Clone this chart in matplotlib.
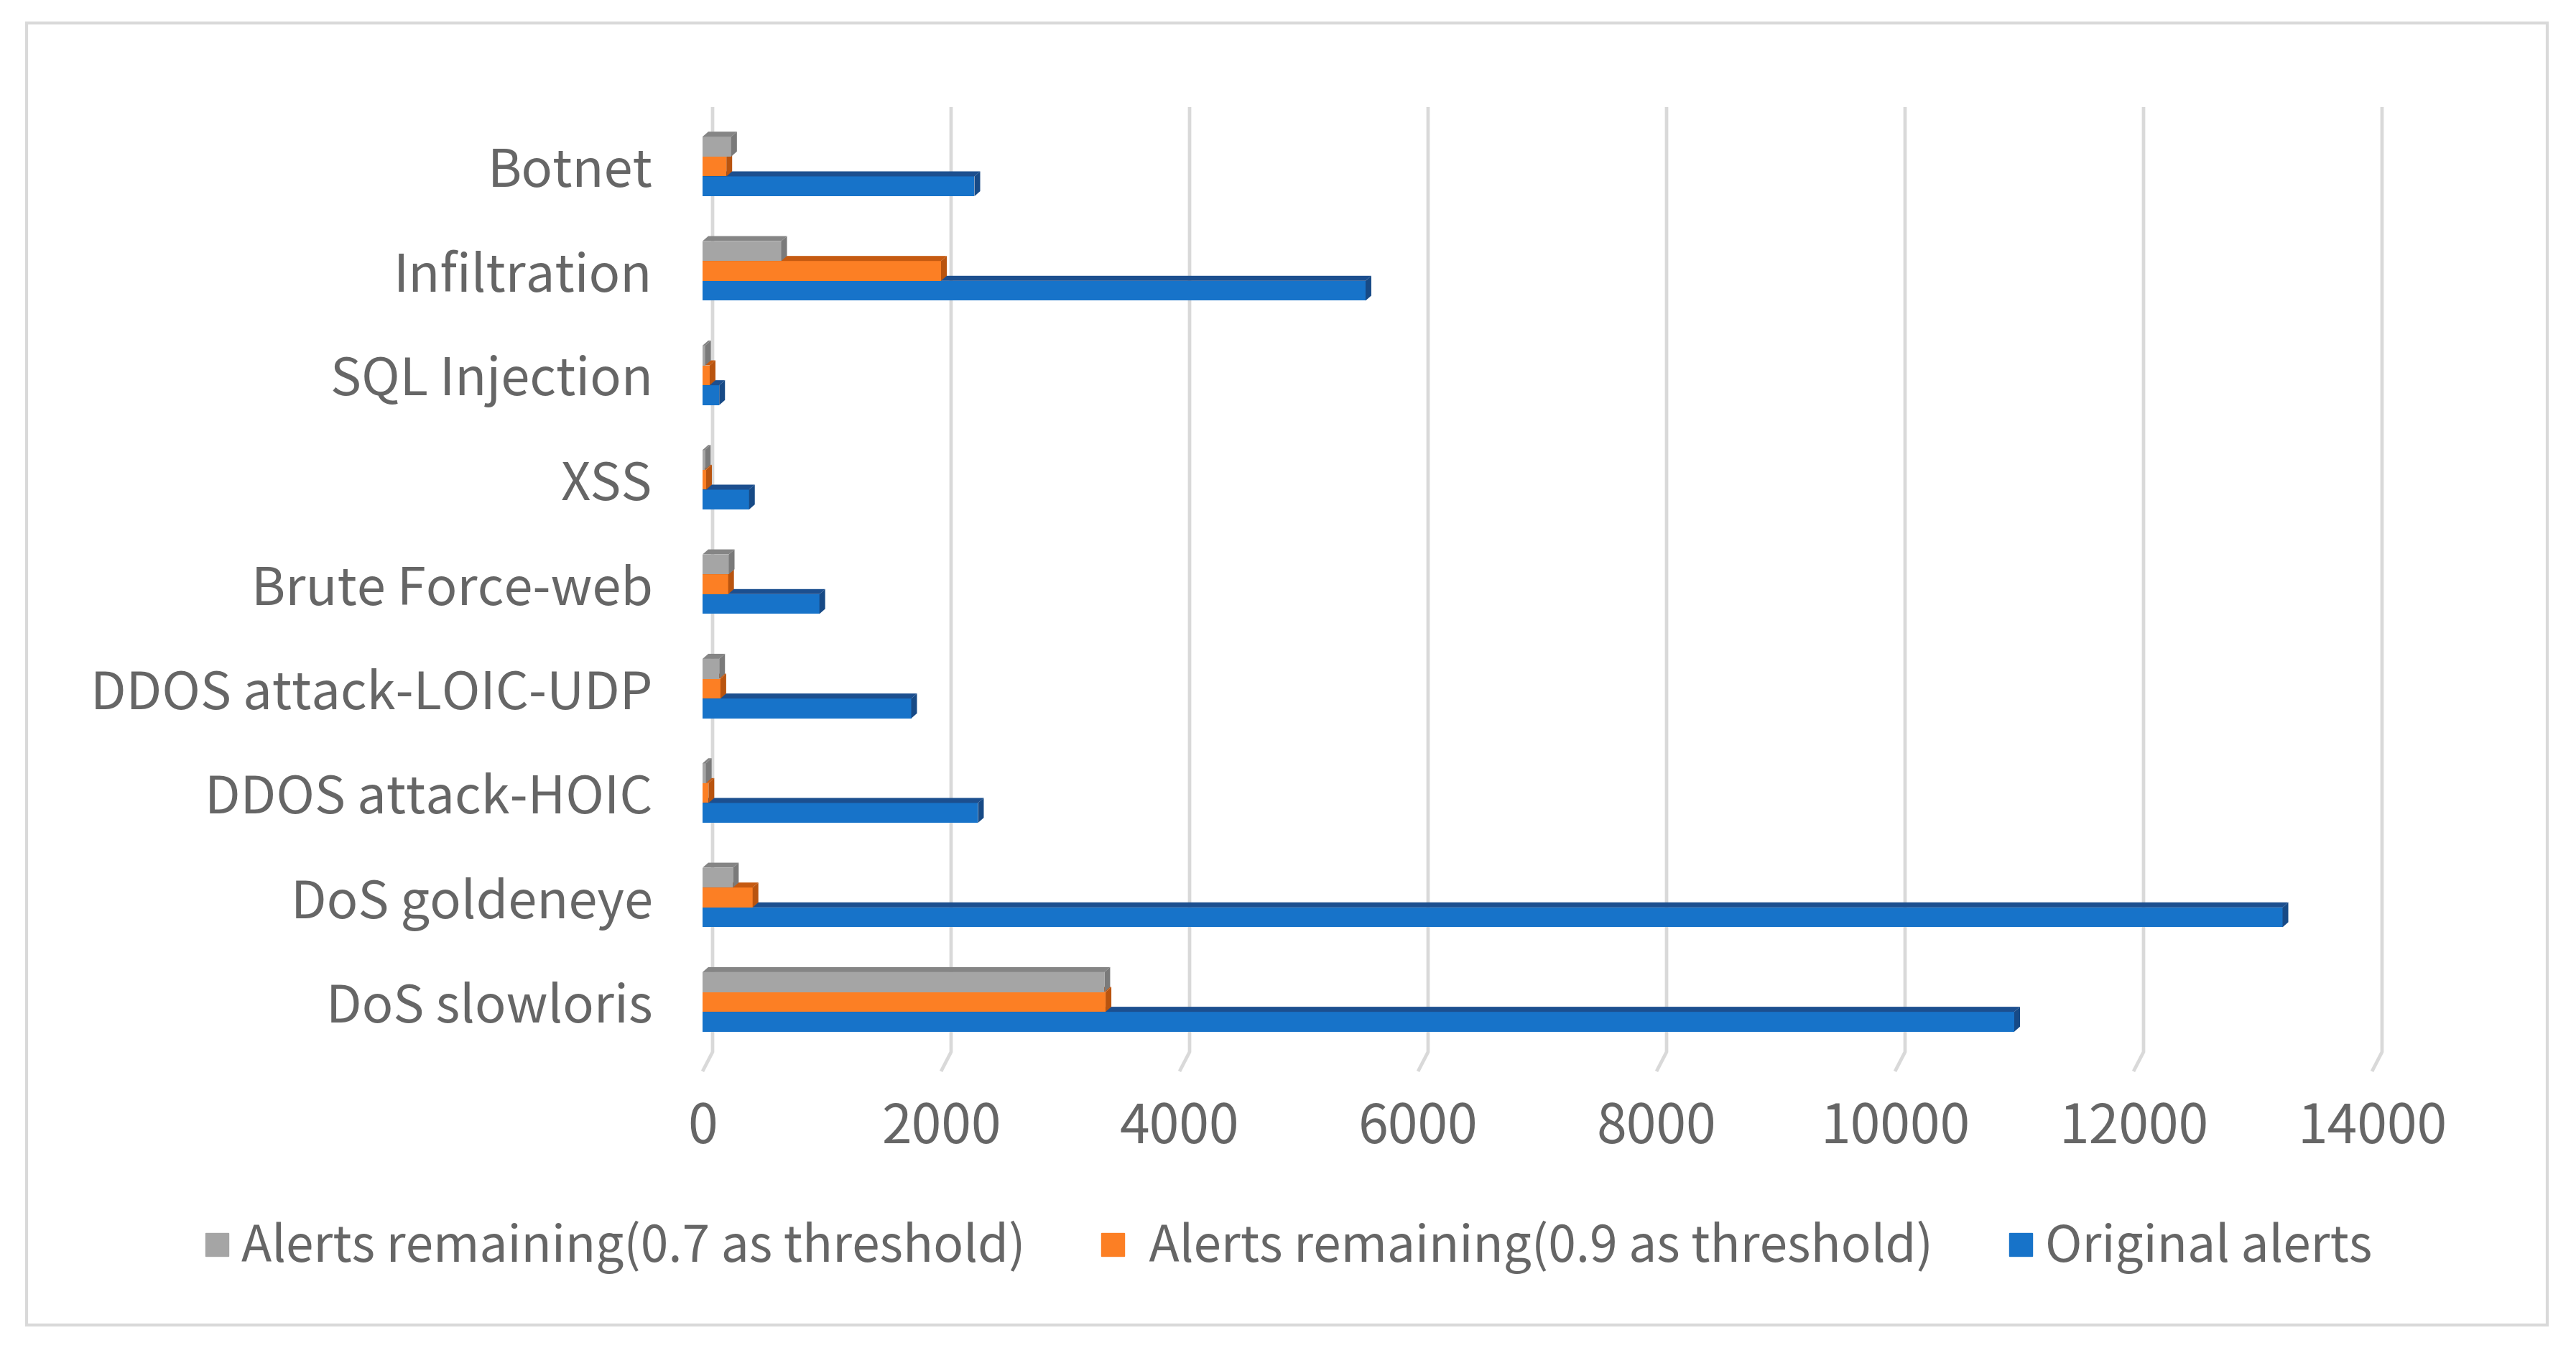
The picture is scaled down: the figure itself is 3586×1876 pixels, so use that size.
import matplotlib.pyplot as plt
from matplotlib.lines import Line2D
from matplotlib.patches import Polygon, Rectangle

plt.rcParams["font.family"] = ["Noto Sans CJK SC", "DejaVu Sans"]

# Data, bottom to top as drawn
categories = ["DoS slowloris", "DoS goldeneye", "DDOS attack-HOIC", "DDOS attack-LOIC-UDP",
              "Brute Force-web", "XSS", "SQL Injection", "Infiltration", "Botnet"]
original_alerts = [11000, 13250, 2310, 1750, 980, 390, 140, 5560, 2280]
remaining_09 = [3380, 420, 50, 150, 215, 30, 60, 2000, 200]
remaining_07 = [3370, 255, 28, 140, 220, 20, 22, 660, 240]
x_ticks = [0, 2000, 4000, 6000, 8000, 10000, 12000, 14000]

labels = ["Alerts remaining(0.7 as threshold)", " Alerts remaining(0.9 as threshold)", "Original alerts"]

W, H = 3587, 1876
TEXT = "#666666"
GRID = "#D9D9D9"

fig = plt.figure(figsize=(W / 100, H / 100), dpi=100)
ax = fig.add_axes([978 / W, 1 - 1467 / H, 2324 / W, 1308 / H])
ax.set_xlim(0, 14000)
ax.set_ylim(-0.5, len(categories) - 0.5)

# 3D look: offsets of the top / side faces in data units
px_x = 14000 / 2324
px_y = 1 / 145.3
dx, dy = 8 * px_x, 7 * px_y
wall_dx = 14 * px_x

# back wall gridlines with the slanted floor tick
for v in x_ticks:
    ax.plot([v + wall_dx, v + wall_dx, v],
            [len(categories) - 0.5 + 10 * px_y, -0.5 + 3 * px_y, -0.5 - 24 * px_y],
            color=GRID, lw=3.4, zorder=0, clip_on=False, solid_capstyle="butt")

h = 0.19
series = [
    (original_alerts, -h, "#1773C9", "#1C4F8F", "#174a86"),
    (remaining_09, 0.0, "#FC7F24", "#C55A11", "#B9540F"),
    (remaining_07, h, "#A5A5A5", "#858585", "#7A7A7A"),
]
for z, (vals, off, front, top, side) in enumerate(series):
    ys = [i + off for i in range(len(categories))]
    ax.barh(ys, vals, height=h, color=front, zorder=2 + z * 2)
    for y, v in zip(ys, vals):
        y0, y1 = y - h / 2, y + h / 2
        ax.add_patch(Polygon([(0, y1), (dx, y1 + dy), (v + dx, y1 + dy), (v, y1)],
                             closed=True, color=top, lw=0, zorder=2 + z * 2))
        ax.add_patch(Polygon([(v, y0), (v, y1), (v + dx, y1 + dy), (v + dx, y0 + dy)],
                             closed=True, color=side, lw=0, zorder=3 + z * 2))

ax.set_yticks(range(len(categories)))
ax.set_yticklabels(categories)
ax.set_xticks(x_ticks)
ax.set_xticklabels([str(t) for t in x_ticks])
ax.tick_params(axis="y", length=0, pad=50, labelsize=52, labelcolor=TEXT)
ax.tick_params(axis="x", length=0, pad=46, labelsize=54, labelcolor=TEXT)
for s in ax.spines.values():
    s.set_visible(False)
ax.patch.set_visible(False)

# square legend keys
legend_colors = ["#A5A5A5", "#FC7F24", "#1773C9"]
keys = [Line2D([], [], marker="s", linestyle="none", markersize=23, color=c) for c in legend_colors]
fig.legend(keys, labels, loc="center", bbox_to_anchor=(0.500, 1 - 1736 / H), ncol=3,
           frameon=False, fontsize=50, handlelength=0.5, handletextpad=0.25,
           columnspacing=1.5, labelcolor=TEXT)

# outer chart border
fig.patches.append(Rectangle((37 / W, 1 - 1844 / H), (3546 - 37) / W, (1844 - 32) / H,
                             transform=fig.transFigure, fill=False, edgecolor=GRID, lw=3))

fig.savefig("out.png", dpi=100, facecolor="white")
